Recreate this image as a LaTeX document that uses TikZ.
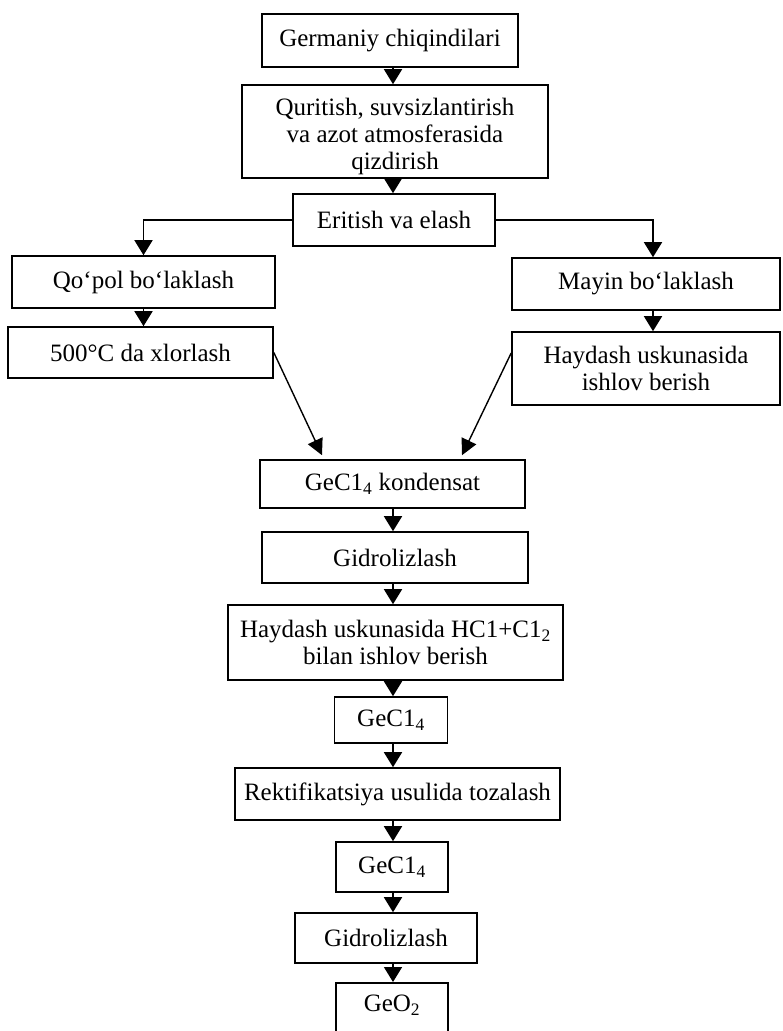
\documentclass[tikz,border=0pt]{standalone}
\usepackage{fontspec}
\setmainfont{Liberation Serif}
\usetikzlibrary{arrows.meta}
\begin{document}
\begin{tikzpicture}[x=1pt,y=-1pt,
  box/.style={draw, line width=1.6pt, inner sep=0pt, align=center,
    font=\fontsize{25}{27}\selectfont},
  txt/.style={inner sep=0pt, align=center, font=\fontsize{25}{27}\selectfont},
  arr/.style={line width=1.6pt, -{Triangle[width=18pt,length=15pt]}},
  darr/.style={line width=1.4pt, -{Triangle[width=16pt,length=16pt]}}]
\useasboundingbox (0,0) rectangle (783,1031);
\clip (0,0) rectangle (783,1031);
\coordinate (col) at (393,0);

\node[box, minimum width=256pt, minimum height=53pt] (b1) at (390,40.5) {Germaniy chiqindilari};
\node[box, minimum width=306pt, minimum height=93pt] (b2) at (395,131.5) {};
\node[txt] (b2t) at ([yshift=-5pt]b2.center) {Quritish, suvsizlantirish\\va azot atmosferasida\\qizdirish};
\node[box, minimum width=202pt, minimum height=52pt] (b3) at (394,220) {Eritish va elash};
\node[box, minimum width=263pt, minimum height=52pt] (q) at (143.5,282) {Qo‘pol bo‘laklash};
\node[box, minimum width=265pt, minimum height=51pt] (x5) at (140.5,352.5) {500°C da xlorlash};
\node[box, minimum width=268pt, minimum height=52pt] (m) at (646,284) {Mayin bo‘laklash};
\node[box, minimum width=268pt, minimum height=73pt] (h) at (646,368.5) {Haydash uskunasida\\ishlov berish};
\node[box, minimum width=265pt, minimum height=48pt] (k) at (392.5,484) {GeC1\textsubscript{4} kondensat};
\node[box, minimum width=266pt, minimum height=51pt] (g1) at (395,557.5) {Gidrolizlash};
\node[box, minimum width=335pt, minimum height=75pt] (hc) at (395.5,642.5) {Haydash uskunasida HC1+C1\textsubscript{2}\\bilan ishlov berish};
\node[box, minimum width=113pt, minimum height=46pt] (c1) at (391,720) {GeC1\textsubscript{4}};
\node[box, minimum width=325pt, minimum height=52pt] (r) at (397.5,794) {Rektifikatsiya usulida tozalash};
\node[box, minimum width=112pt, minimum height=50pt] (c2) at (392,867) {GeC1\textsubscript{4}};
\node[box, minimum width=182pt, minimum height=50pt] (g2) at (386,938) {Gidrolizlash};
\node[box, minimum width=112pt, text height=29pt, text depth=49pt, anchor=north] (o) at (392,982) {GeO\textsubscript{2}};

\draw[arr] (b1.south -| col) -- (b2.north -| col);
\draw[arr] (b2.south -| col) -- (b3.north -| col);
\draw[arr] (b3.west) -| (q.north);
\draw[arr] (b3.east) -| ([xshift=7pt]m.north);
\draw[arr] (q.south) -- (x5.north -| q.south);
\draw[arr] ([xshift=7pt]m.south) -- ([xshift=7pt]h.north);
\draw[darr] (x5.east) -- ([xshift=-70.5pt,yshift=4pt]k.north);
\draw[darr] ([yshift=15.5pt]h.west) -- ([xshift=69.5pt,yshift=4pt]k.north);
\draw[arr] (k.south -| col) -- (g1.north -| col);
\draw[arr] (g1.south -| col) -- (hc.north -| col);
\draw[arr] (hc.south -| col) -- (c1.north -| col);
\draw[arr] (c1.south -| col) -- (r.north -| col);
\draw[arr] (r.south -| col) -- (c2.north -| col);
\draw[arr] (c2.south -| col) -- (g2.north -| col);
\draw[arr] (g2.south -| col) -- (o.north -| col);
\end{tikzpicture}
\end{document}
